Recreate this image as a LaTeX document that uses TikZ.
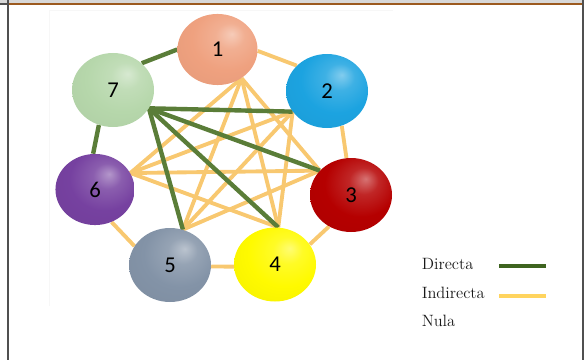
\documentclass[tikz,border=0pt]{standalone}
\usepackage{fontspec}
\newfontfamily\carlito{Carlito}
\usetikzlibrary{shapes.geometric,backgrounds}
\definecolor{cOne}{HTML}{EFA17F}
\definecolor{cTwo}{HTML}{1CA3E0}
\definecolor{cThree}{HTML}{B50000}
\definecolor{cFour}{HTML}{FFFA00}
\definecolor{cFive}{HTML}{8393A7}
\definecolor{cSix}{HTML}{7641A0}
\definecolor{cSeven}{HTML}{B6D7AB}
\definecolor{dgreen}{HTML}{5A7D38}
\definecolor{iyellow}{HTML}{F8C870}
\definecolor{legGreen}{HTML}{3E6420}
\definecolor{legYellow}{HTML}{FFD45E}
\definecolor{frameGray}{HTML}{505050}
\definecolor{bandGray}{HTML}{D8D8D8}
\definecolor{brownLine}{HTML}{9C5A1F}
\colorlet{glosscol}{white}
\pgfdeclareradialshading[glosscol]{gloss}{\pgfpoint{9bp}{11bp}}{%
 color(0bp)=(glosscol!55!white);
 color(9bp)=(glosscol!85!white);
 color(22bp)=(glosscol);
 color(48bp)=(glosscol!94!black);
 color(64bp)=(glosscol!80!black)}
\tikzset{
 gcol/.code={\colorlet{glosscol}{#1}},
 ball/.style={ellipse, minimum width=61.5pt, minimum height=55.5pt, inner sep=0pt,
   shade, shading=gloss, gcol=#1, font=\carlito\fontsize{17}{17}\selectfont},
 direct/.style={draw=dgreen, line width=3.3pt},
 indirect/.style={draw=iyellow, line width=2.9pt},
 legtext/.style={anchor=west, inner sep=0pt, text=black!90, font=\fontsize{12.3}{14}\selectfont},
 legdirect/.style={draw=legGreen, line width=3.4pt},
 legindirect/.style={draw=legYellow, line width=3.4pt},
}
\begin{document}
\begin{tikzpicture}[x=0.75pt,y=-0.75pt]
\useasboundingbox (0,0) rectangle (584,360);
% nodes
\node[ball=cOne, minimum width=60pt, minimum height=53.3pt] (n1) at (217.5,49.5) {1};
\node[ball=cSeven] (n7) at (113,90) {7};
\node[ball=cTwo] (n2) at (327,91) {2};
\node[ball=cSix, minimum width=59.3pt, minimum height=53.3pt] (n6) at (95,189.5) {6};
\node[ball=cThree] (n3) at (351,195) {3};
\node[ball=cFive] (n5) at (170,265) {5};
\node[ball=cFour] (n4) at (275,264.5) {4};
% legend
\node[legtext] (ldir) at (421.5,264) {Directa};
\node[legtext] (lind) at (421.5,293) {Indirecta};
\node[legtext] (lnul) at (421.5,321) {Nula};
\coordinate (dA) at (499,266);
\coordinate (dB) at (546,266);
\coordinate (iA) at (499,296);
\coordinate (iB) at (546,296);
\draw[legdirect] (dA) -- (dB);
\draw[legindirect] (iA) -- (iB);
\begin{scope}[on background layer]
 % frame
 \fill[bandGray] (0,0) rectangle (584,3.3);
 \fill[brownLine] (8,3.3) rectangle (582,5.3);
 \fill[frameGray] (0,3.3) rectangle (7,5.3);
 \fill[frameGray] (6.7,0) rectangle (8.7,360);
 \fill[frameGray] (581.7,0) rectangle (584,360);
 \draw[gray!6, line width=0.5pt] (393,10.5) -- (49.6,10.5) -- (49.6,306);
 % outer indirect
 \draw[indirect] (n1.-2) -- (n2.140);
 \draw[indirect] (n2.-67) -- (n3.97);
 \draw[indirect] (n3.235) -- (n4.30);
 \draw[indirect] (n4.183) -- (n5.-2);
 \draw[indirect] (n5.152) -- (n6.-63);
 % inner indirect
 \draw[indirect] (n1.-50) -- (n3.142);
 \draw[indirect] (n1.-50) -- (n4.85);
 \draw[indirect] (n1.-50) -- (n5.70);
 \draw[indirect] (n1.-50) -- (n6.25);
 \draw[indirect] (n2.-149) -- (n4.85);
 \draw[indirect] (n2.-149) -- (n5.70);
 \draw[indirect] (n2.-149) -- (n6.25);
 \draw[indirect] (n3.142) -- (n5.70);
 \draw[indirect] (n3.142) -- (n6.25);
 \draw[indirect] (n4.85) -- (n6.25);
 % direct
 \draw[direct] (n7.43) -- (n1.180);
 \draw[direct] (n7.-112) -- (n6.93);
 \draw[direct] (n7.-27) -- (n2.-149);
 \draw[direct] (n7.-27) -- (n3.142);
 \draw[direct] (n7.-27) -- (n4.85);
 \draw[direct] (n7.-27) -- (n5.70);
\end{scope}
\end{tikzpicture}
\end{document}
